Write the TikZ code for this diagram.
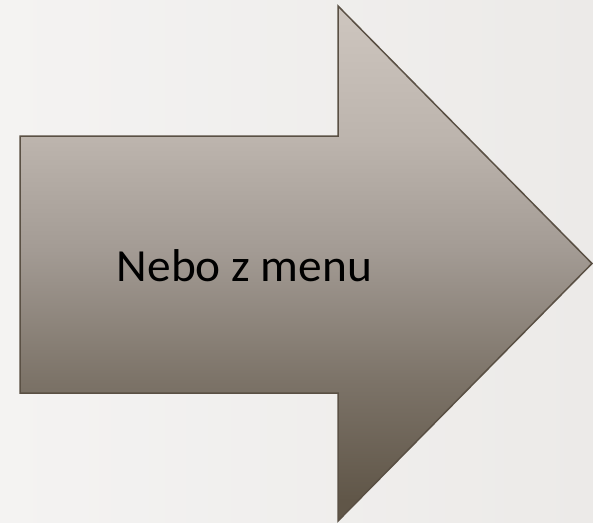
\documentclass[tikz,border=0pt]{standalone}
\usepackage{fontspec}
\setmainfont{Carlito}
\definecolor{bgL}{HTML}{F4F3F2}
\definecolor{bgR}{HTML}{ECEAE8}
\definecolor{edgeC}{HTML}{5A5044}
\definecolor{s1}{RGB}{204,196,189}
\definecolor{s2}{RGB}{188,180,173}
\definecolor{s3}{RGB}{163,155,148}
\definecolor{s4}{RGB}{124,115,104}
\definecolor{s5}{RGB}{96,86,72}
\pgfdeclareverticalshading{arrowshade}{100bp}{color(0bp)=(s5); color(25bp)=(s5); color(27bp)=(s5); color(38.6bp)=(s4); color(51.3bp)=(s3); color(62bp)=(s2); color(73.6bp)=(s1); color(75bp)=(s1); color(100bp)=(s1)}
\tikzset{
  bigarrow/.style={draw=edgeC, line width=1.5pt, line join=miter, shading=arrowshade},
  label/.style={font=\fontsize{46}{54}\selectfont, text=black, inner sep=0pt, xscale=1.03}
}
\begin{document}
\begin{tikzpicture}[x=1pt,y=-1pt]
\useasboundingbox (0,0) rectangle (593,522);
\shade[left color=bgL, right color=bgR] (0,0) rectangle (593,522);
\path[bigarrow] (20,136) -- (338,136) -- (338,6) -- (592,263.5) -- (338,521) -- (338,393) -- (20,393) -- cycle;
\node[label, anchor=base] (t) at (244.5,281) {Nebo z menu};
\end{tikzpicture}
\end{document}
